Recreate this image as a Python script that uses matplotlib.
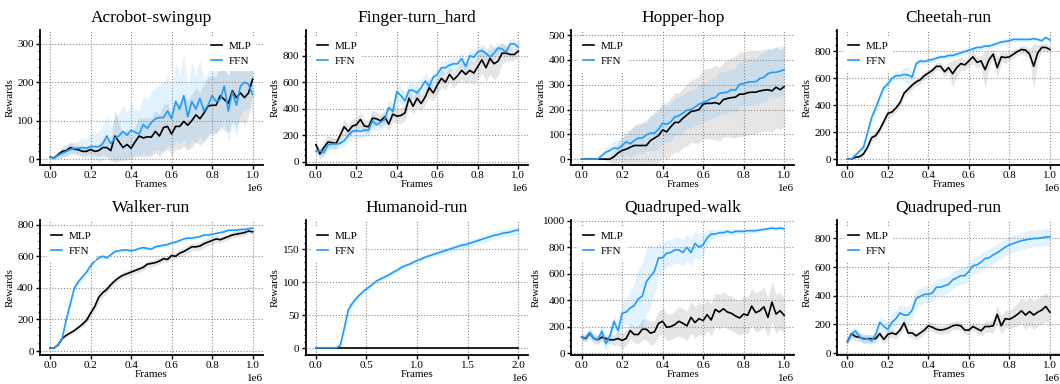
import numpy as np
import matplotlib
matplotlib.use('Agg')
import matplotlib.pyplot as plt
from matplotlib.ticker import AutoMinorLocator

plt.rcParams['font.family'] = ['Liberation Serif', 'DejaVu Serif']

# x grid: 51 evaluation points
frames_1m = np.linspace(0, 1e6, 51)
frames_2m = np.linspace(0, 2e6, 51)

titles = ["Acrobot-swingup", "Finger-turn_hard", "Hopper-hop", "Cheetah-run",
          "Walker-run", "Humanoid-run", "Quadruped-walk", "Quadruped-run"]

acrobot_mlp = [5, 3, 12, 20, 22, 30, 26, 24, 20, 20, 25, 20, 22, 30, 30, 22, 60, 45, 30, 38, 28,
               45, 60, 55, 58, 57, 72, 60, 82, 85, 65, 85, 85, 98, 88, 100, 115, 105, 120, 138, 140,
               140, 165, 155, 145, 178, 160, 172, 160, 172, 208]
acrobot_mlp_std = [2, 3, 8, 12, 15, 15, 12, 12, 12, 10, 12, 12, 15, 20, 25, 25, 70, 50, 35, 40, 30,
                   40, 50, 50, 50, 50, 55, 55, 60, 60, 55, 60, 60, 65, 65, 70, 70, 70, 75, 75, 75,
                   75, 80, 80, 75, 80, 75, 70, 70, 60, 40]
acrobot_ffn = [5, 3, 10, 15, 20, 25, 28, 28, 30, 28, 33, 33, 32, 40, 60, 40, 55, 60, 72, 62, 75,
               70, 65, 90, 80, 95, 105, 108, 108, 125, 105, 150, 130, 165, 110, 150, 130, 158, 125, 140, 165,
               150, 155, 190, 125, 175, 140, 190, 200, 195, 168]
acrobot_ffn_std = [2, 3, 8, 12, 12, 15, 18, 20, 25, 25, 35, 35, 40, 45, 50, 45, 55, 60, 70, 60, 70,
                   60, 60, 75, 75, 80, 80, 85, 90, 90, 80, 100, 90, 110, 80, 100, 90, 100, 80, 85, 90,
                   80, 80, 80, 80, 85, 80, 75, 70, 60, 55]

finger_mlp = [130, 60, 110, 150, 145, 140, 200, 265, 230, 270, 280, 320, 270, 265, 330, 325, 310, 340, 285, 360, 345,
              350, 370, 480, 420, 480, 440, 490, 560, 520, 580, 630, 600, 660, 620, 650, 690, 660, 690, 670, 720,
              770, 710, 780, 740, 760, 820, 820, 810, 810, 835]
finger_mlp_std = [40, 40, 50, 50, 40, 40, 50, 60, 50, 50, 50, 60, 50, 50, 60, 50, 50, 50, 50, 60, 50,
                  60, 60, 70, 60, 70, 60, 60, 70, 60, 60, 70, 60, 60, 60, 60, 70, 70, 80, 80, 90,
                  100, 100, 120, 120, 110, 80, 60, 50, 40, 40]
finger_ffn = [80, 85, 70, 130, 135, 135, 140, 160, 200, 230, 235, 230, 240, 240, 310, 280, 300, 320, 410, 380, 530,
              500, 460, 540, 540, 520, 560, 610, 570, 640, 660, 710, 710, 730, 740, 740, 780, 720, 800, 790, 830,
              840, 820, 790, 820, 860, 850, 830, 890, 890, 865]
finger_ffn_std = [30, 30, 40, 40, 40, 40, 40, 40, 50, 50, 50, 50, 50, 50, 60, 50, 50, 50, 60, 60, 70,
                  60, 60, 60, 60, 60, 60, 60, 60, 50, 50, 50, 50, 50, 50, 50, 50, 50, 50, 50, 50,
                  50, 50, 50, 50, 40, 40, 40, 40, 40, 40]

hopper_mlp = [0, 0, 0, 0, 0, 0, 0, 0, 10, 25, 35, 40, 48, 55, 55, 55, 55, 75, 85, 95, 118,
              110, 130, 148, 148, 165, 178, 192, 195, 200, 222, 225, 225, 228, 222, 240, 245, 248, 250, 262, 262,
              268, 270, 270, 275, 278, 280, 275, 290, 280, 292]
hopper_mlp_std = [0, 0, 0, 0, 0, 0, 5, 15, 30, 40, 50, 60, 70, 80, 85, 90, 95, 100, 105, 110, 110,
                  115, 115, 120, 120, 120, 125, 125, 130, 135, 140, 140, 145, 150, 150, 150, 155, 160, 165, 170, 170,
                  170, 170, 170, 165, 165, 165, 165, 165, 160, 160]
hopper_ffn = [0, 0, 0, 0, 0, 15, 28, 35, 45, 42, 55, 70, 62, 75, 85, 85, 98, 105, 105, 120, 145,
              140, 150, 170, 175, 185, 198, 200, 210, 222, 228, 235, 245, 248, 265, 268, 270, 280, 278, 302, 305,
              310, 312, 312, 325, 330, 345, 350, 350, 355, 360]
hopper_ffn_std = [0, 0, 0, 0, 0, 10, 20, 25, 30, 35, 45, 50, 55, 60, 60, 65, 65, 70, 70, 75, 75,
                  75, 75, 75, 75, 75, 75, 75, 75, 80, 80, 80, 80, 80, 85, 85, 85, 85, 90, 90, 90,
                  95, 95, 95, 100, 100, 100, 100, 100, 100, 100]

cheetah_mlp = [0, 0, 15, 18, 40, 90, 160, 175, 220, 280, 340, 350, 380, 420, 490, 520, 550, 575, 590, 620, 640,
               660, 690, 690, 650, 680, 635, 680, 710, 700, 730, 760, 720, 730, 665, 740, 780, 680, 760, 755, 760,
               780, 800, 815, 810, 780, 690, 790, 830, 830, 815]
cheetah_mlp_std = [2, 2, 5, 8, 10, 20, 30, 30, 30, 30, 30, 30, 30, 30, 30, 30, 30, 30, 30, 30, 30,
                   30, 30, 30, 40, 40, 100, 60, 50, 40, 40, 50, 50, 40, 140, 50, 40, 80, 40, 40, 30,
                   30, 30, 30, 30, 40, 170, 60, 30, 30, 30]
cheetah_ffn = [0, 0, 30, 60, 90, 200, 310, 380, 460, 530, 560, 600, 620, 620, 630, 625, 610, 710, 730, 725, 735,
               740, 750, 760, 760, 770, 770, 780, 790, 800, 810, 820, 830, 830, 840, 840, 850, 860, 870, 875, 880,
               890, 890, 890, 890, 890, 895, 890, 880, 905, 885]
cheetah_ffn_std = [2, 2, 10, 15, 20, 30, 40, 40, 40, 30, 30, 30, 30, 30, 50, 60, 40, 20, 20, 20, 20,
                   20, 20, 20, 20, 20, 20, 20, 20, 20, 20, 20, 20, 20, 20, 20, 20, 20, 20, 20, 20,
                   15, 15, 15, 15, 15, 15, 15, 15, 15, 15]

walker_mlp = [20, 20, 40, 80, 100, 115, 130, 150, 170, 195, 240, 280, 340, 370, 390, 420, 445, 465, 480, 490, 500,
              510, 520, 530, 550, 555, 560, 570, 585, 580, 605, 600, 620, 630, 645, 660, 660, 665, 680, 690, 700,
              710, 705, 715, 725, 735, 740, 745, 750, 760, 755]
walker_mlp_std = [3, 3, 5, 10, 10, 10, 15, 15, 15, 20, 30, 30, 35, 30, 25, 25, 20, 20, 20, 20, 20,
                  20, 20, 20, 20, 20, 20, 20, 20, 20, 20, 20, 25, 25, 25, 25, 25, 25, 25, 25, 25,
                  25, 20, 20, 20, 20, 20, 20, 20, 15, 15]
walker_ffn = [20, 20, 40, 80, 200, 300, 400, 440, 470, 500, 540, 570, 590, 600, 590, 610, 630, 635, 640, 640, 635,
              640, 650, 655, 650, 645, 660, 665, 670, 675, 685, 690, 700, 710, 715, 715, 720, 725, 735, 735, 740,
              745, 750, 755, 765, 765, 765, 770, 770, 775, 778]
walker_ffn_std = [3, 3, 5, 10, 15, 20, 20, 20, 20, 20, 20, 15, 15, 15, 10, 10, 10, 10, 10, 10, 10,
                  10, 10, 10, 10, 10, 10, 10, 10, 10, 10, 10, 10, 10, 10, 10, 10, 10, 10, 10, 10,
                  10, 10, 10, 10, 10, 10, 10, 10, 10, 10]

humanoid_mlp = [1, 1, 1, 1, 1, 1, 1, 1, 1, 1, 1, 1, 1, 1, 1, 1, 1, 1, 1, 1, 1,
                1, 1, 1, 1, 1, 1, 1, 1, 1, 1, 1, 1, 1, 1, 1, 1, 1, 1, 1, 1,
                1, 1, 1, 1, 1, 1, 1, 1, 1, 1]
humanoid_mlp_std = [0.3, 0.3, 0.3, 0.3, 0.3, 0.3, 0.3, 0.3, 0.3, 0.3, 0.3, 0.3, 0.3, 0.3, 0.3, 0.3, 0.3,
                    0.3, 0.3, 0.3, 0.3, 0.3, 0.3, 0.3, 0.3, 0.3, 0.3, 0.3, 0.3, 0.3, 0.3, 0.3, 0.3, 0.3,
                    0.3, 0.3, 0.3, 0.3, 0.3, 0.3, 0.3, 0.3, 0.3, 0.3, 0.3, 0.3, 0.3, 0.3, 0.3, 0.3, 0.3]
humanoid_ffn = [1, 1, 1, 1, 1, 1, 4, 30, 58, 68, 76, 82, 88, 92, 97, 102, 105, 108, 111, 115, 118,
                122, 125, 127, 130, 133, 135, 138, 140, 142, 144, 146, 148, 150, 152, 154, 156, 157, 159, 161, 163,
                165, 167, 169, 171, 172, 174, 175, 176, 178, 179]
humanoid_ffn_std = [0.3, 0.3, 0.3, 0.3, 0.3, 0.5, 3, 10, 9, 5, 4, 4, 4, 4, 4, 4, 4, 4, 4, 4, 4,
                    4, 4, 4, 4, 4, 4, 4, 4, 4, 5, 5, 5, 5, 5, 5, 5, 5, 5, 5, 6,
                    6, 6, 6, 6, 6, 6, 6, 6, 6, 7]

qwalk_mlp = [120, 110, 150, 110, 100, 120, 110, 100, 100, 110, 95, 110, 170, 140, 140, 180, 180, 150, 160, 225, 240,
             195, 200, 215, 240, 225, 205, 270, 230, 260, 245, 290, 250, 330, 310, 335, 310, 300, 280, 265, 295,
             285, 355, 305, 320, 350, 270, 385, 295, 320, 285]
qwalk_mlp_std = [20, 25, 30, 30, 30, 30, 30, 30, 40, 50, 60, 60, 60, 60, 70, 80, 80, 90, 90, 90, 100,
                 100, 100, 100, 110, 110, 110, 120, 120, 120, 120, 120, 120, 130, 130, 130, 130, 130, 130, 130, 140,
                 140, 140, 150, 150, 150, 150, 150, 150, 140, 130]
qwalk_ffn = [120, 115, 155, 110, 100, 165, 70, 130, 240, 170, 300, 310, 340, 360, 410, 430, 540, 580, 620, 720, 720,
             755, 760, 780, 780, 760, 800, 760, 830, 800, 820, 870, 900, 900, 910, 910, 920, 910, 920, 920, 920,
             925, 925, 925, 930, 935, 940, 945, 940, 945, 940]
qwalk_ffn_std = [30, 30, 40, 40, 40, 50, 50, 50, 50, 60, 80, 100, 130, 170, 220, 250, 250, 230, 180, 120, 100,
                 100, 100, 100, 100, 100, 100, 100, 100, 100, 80, 60, 40, 30, 30, 30, 25, 25, 25, 20, 20,
                 20, 20, 20, 15, 15, 15, 15, 15, 15, 15]

qrun_mlp = [80, 135, 115, 110, 100, 100, 100, 100, 135, 95, 130, 140, 130, 160, 210, 140, 140, 120, 140, 160, 190,
            180, 165, 160, 165, 175, 190, 195, 190, 160, 160, 185, 170, 155, 185, 185, 190, 270, 190, 240, 235,
            250, 270, 295, 265, 290, 265, 285, 300, 325, 285]
qrun_mlp_std = [20, 30, 30, 30, 30, 30, 30, 30, 30, 30, 30, 30, 30, 30, 30, 30, 30, 30, 30, 30, 30,
                30, 30, 30, 30, 30, 30, 30, 30, 30, 30, 30, 30, 40, 40, 40, 50, 60, 60, 60, 60,
                70, 80, 90, 100, 100, 100, 100, 100, 100, 100]
qrun_ffn = [80, 130, 155, 115, 95, 100, 85, 130, 215, 185, 165, 215, 240, 280, 265, 265, 300, 380, 395, 410, 410,
            420, 460, 460, 470, 480, 510, 525, 540, 540, 570, 610, 615, 635, 660, 665, 685, 700, 720, 740, 755,
            765, 775, 785, 790, 795, 800, 800, 805, 810, 812]
qrun_ffn_std = [20, 30, 30, 30, 30, 30, 30, 30, 40, 50, 60, 60, 60, 60, 60, 60, 60, 60, 60, 60, 60,
                60, 60, 60, 60, 60, 60, 60, 60, 60, 60, 60, 60, 60, 60, 60, 60, 60, 60, 60, 60,
                60, 60, 60, 60, 60, 60, 60, 60, 60, 60]

panels = [
    (frames_1m, acrobot_mlp, acrobot_mlp_std, acrobot_ffn, acrobot_ffn_std, (-15, 336), 'upper right'),
    (frames_1m, finger_mlp, finger_mlp_std, finger_ffn, finger_ffn_std, (-22, 995), 'upper left'),
    (frames_1m, hopper_mlp, hopper_mlp_std, hopper_ffn, hopper_ffn_std, (-23, 521), 'upper left'),
    (frames_1m, cheetah_mlp, cheetah_mlp_std, cheetah_ffn, cheetah_ffn_std, (-42, 960), 'upper left'),
    (frames_1m, walker_mlp, walker_mlp_std, walker_ffn, walker_ffn_std, (-25, 829), 'upper left'),
    (frames_2m, humanoid_mlp, humanoid_mlp_std, humanoid_ffn, humanoid_ffn_std, (-10, 194), 'upper left'),
    (frames_1m, qwalk_mlp, qwalk_mlp_std, qwalk_ffn, qwalk_ffn_std, (-15, 1005), 'upper left'),
    (frames_1m, qrun_mlp, qrun_mlp_std, qrun_ffn, qrun_ffn_std, (-14, 928), 'upper left'),
]

MLP_COLOR = 'black'
FFN_COLOR = '#1E9BFF'

fig, axes = plt.subplots(2, 4, figsize=(10.6, 3.84), dpi=100)
fig.subplots_adjust(left=0.0377, right=1.0, top=0.922, bottom=0.0755, wspace=0.193, hspace=0.41)

for ax, title, (x, m, ms, f, fs, ylim, loc) in zip(axes.flat, titles, panels):
    m, ms, f, fs = map(np.array, (m, ms, f, fs))
    ax.fill_between(x, m - ms, m + ms, color='gray', alpha=0.2, linewidth=0)
    ax.fill_between(x, f - fs, f + fs, color=FFN_COLOR, alpha=0.12, linewidth=0)
    ax.plot(x, m, color=MLP_COLOR, linewidth=1.2, label='MLP')
    ax.plot(x, f, color=FFN_COLOR, linewidth=1.2, label='FFN')
    ax.set_ylim(*ylim)
    ax.set_title(title, fontsize=12.5, pad=6)
    ax.set_xlabel('Frames', fontsize=8, labelpad=0)
    ax.set_ylabel('Rewards', fontsize=8, labelpad=2)
    ax.grid(True, linestyle=':', color='0.55', linewidth=0.8)
    ax.yaxis.set_minor_locator(AutoMinorLocator())
    ax.tick_params(axis='both', which='major', labelsize=8, length=3, width=1, direction='out', pad=1.5)
    ax.tick_params(axis='y', which='minor', length=1.8, width=0.8, direction='out')
    ax.xaxis.get_offset_text().set_fontsize(8)
    for s in ['top', 'right']:
        ax.spines[s].set_visible(False)
    for s in ['left', 'bottom']:
        ax.spines[s].set_linewidth(1.3)
    ax.legend(loc=loc, fontsize=8, handlelength=1.0, frameon=True, framealpha=1.0,
              edgecolor='none', borderaxespad=0.6, handletextpad=0.6, labelspacing=0.5)

plt.savefig('out.png', dpi=100)
